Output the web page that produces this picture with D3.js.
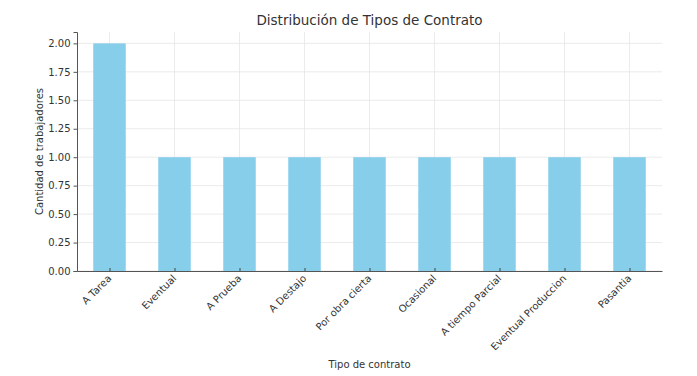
<!DOCTYPE html>
<html>
<head>
<meta charset="utf-8">
<script src="https://cdn.jsdelivr.net/npm/d3@7"></script>
<style>
  body { margin: 0; background: #fff; }
  text { font-family: "DejaVu Sans", sans-serif; }
</style>
</head>
<body>
<div id="chart"></div>
<script>
const categories = ['A Tarea', 'Eventual', 'A Prueba', 'A Destajo', 'Por obra cierta',
  'Ocasional', 'A tiempo Parcial', 'Eventual Produccion', 'Pasantia'];
const counts = [2, 1, 1, 1, 1, 1, 1, 1, 1];
const yTicks = [0, 0.25, 0.5, 0.75, 1, 1.25, 1.5, 1.75, 2];

const width = 697;
const height = 376;
const margin = { top: 32, right: 35, bottom: 105, left: 77 };
const innerW = width - margin.left - margin.right;
const innerH = height - margin.top - margin.bottom;

const svg = d3.select('#chart')
    .append('svg')
    .attr('width', width)
    .attr('height', height);

const g = svg.append('g')
    .attr('transform', `translate(${margin.left},${margin.top})`);

// pandas-style bar positions: -0.5 .. n-0.5, bar width 0.5
const x = d3.scaleLinear()
    .domain([-0.5, categories.length - 0.5])
    .range([0, innerW]);

const y = d3.scaleLinear()
    .domain([0, 2.1])
    .range([innerH, 0]);

// Grid
g.append('g')
    .selectAll('line')
    .data(yTicks)
    .join('line')
    .attr('x1', 0).attr('x2', innerW)
    .attr('y1', d => y(d)).attr('y2', d => y(d))
    .attr('stroke', '#e6e6e6').attr('stroke-width', 0.8);

g.append('g')
    .selectAll('line')
    .data(categories)
    .join('line')
    .attr('x1', (d, i) => x(i)).attr('x2', (d, i) => x(i))
    .attr('y1', 0).attr('y2', innerH)
    .attr('stroke', '#e6e6e6').attr('stroke-width', 0.8);

// Bars
const barW = x(0.25) - x(-0.25);
g.append('g')
    .selectAll('rect')
    .data(counts)
    .join('rect')
    .attr('x', (d, i) => x(i) - barW / 2)
    .attr('y', d => y(d))
    .attr('width', barW)
    .attr('height', d => innerH - y(d))
    .attr('fill', '#87ceeb');

// Y axis
const yAxis = g.append('g')
    .call(d3.axisLeft(y).tickValues(yTicks).tickFormat(d3.format('.2f')).tickSize(3.5).tickPadding(3));
yAxis.select('.domain').attr('stroke', '#555').attr('stroke-width', 1);
yAxis.selectAll('.tick line').attr('stroke', '#555');
yAxis.selectAll('.tick text').attr('fill', '#333').attr('font-size', '10px');

// X axis (ticks pointing inward)
const xAxis = g.append('g')
    .attr('transform', `translate(0,${innerH})`)
    .call(d3.axisBottom(x).tickValues(d3.range(categories.length))
      .tickFormat(i => categories[i]).tickSizeInner(-3).tickSizeOuter(0).tickPadding(6));
xAxis.select('.domain').attr('stroke', '#555').attr('stroke-width', 1);
xAxis.selectAll('.tick line').attr('stroke', '#444');
xAxis.selectAll('.tick text')
    .attr('fill', '#333')
    .attr('font-size', '10px')
    .attr('text-anchor', 'end')
    .attr('dy', null)
    .attr('y', 0)
    .attr('transform', 'translate(2,8) rotate(-45)');

// Title
svg.append('text')
    .attr('x', margin.left + innerW / 2)
    .attr('y', 25)
    .attr('text-anchor', 'middle')
    .attr('font-size', '13.5px')
    .attr('fill', '#333')
    .text('Distribución de Tipos de Contrato');

// Axis labels
svg.append('text')
    .attr('x', margin.left + innerW / 2)
    .attr('y', 368)
    .attr('text-anchor', 'middle')
    .attr('font-size', '10px')
    .attr('fill', '#333')
    .text('Tipo de contrato');

svg.append('text')
    .attr('transform', `translate(43,${margin.top + innerH / 2}) rotate(-90)`)
    .attr('text-anchor', 'middle')
    .attr('font-size', '10px')
    .attr('fill', '#333')
    .text('Cantidad de trabajadores');
</script>
</body>
</html>
